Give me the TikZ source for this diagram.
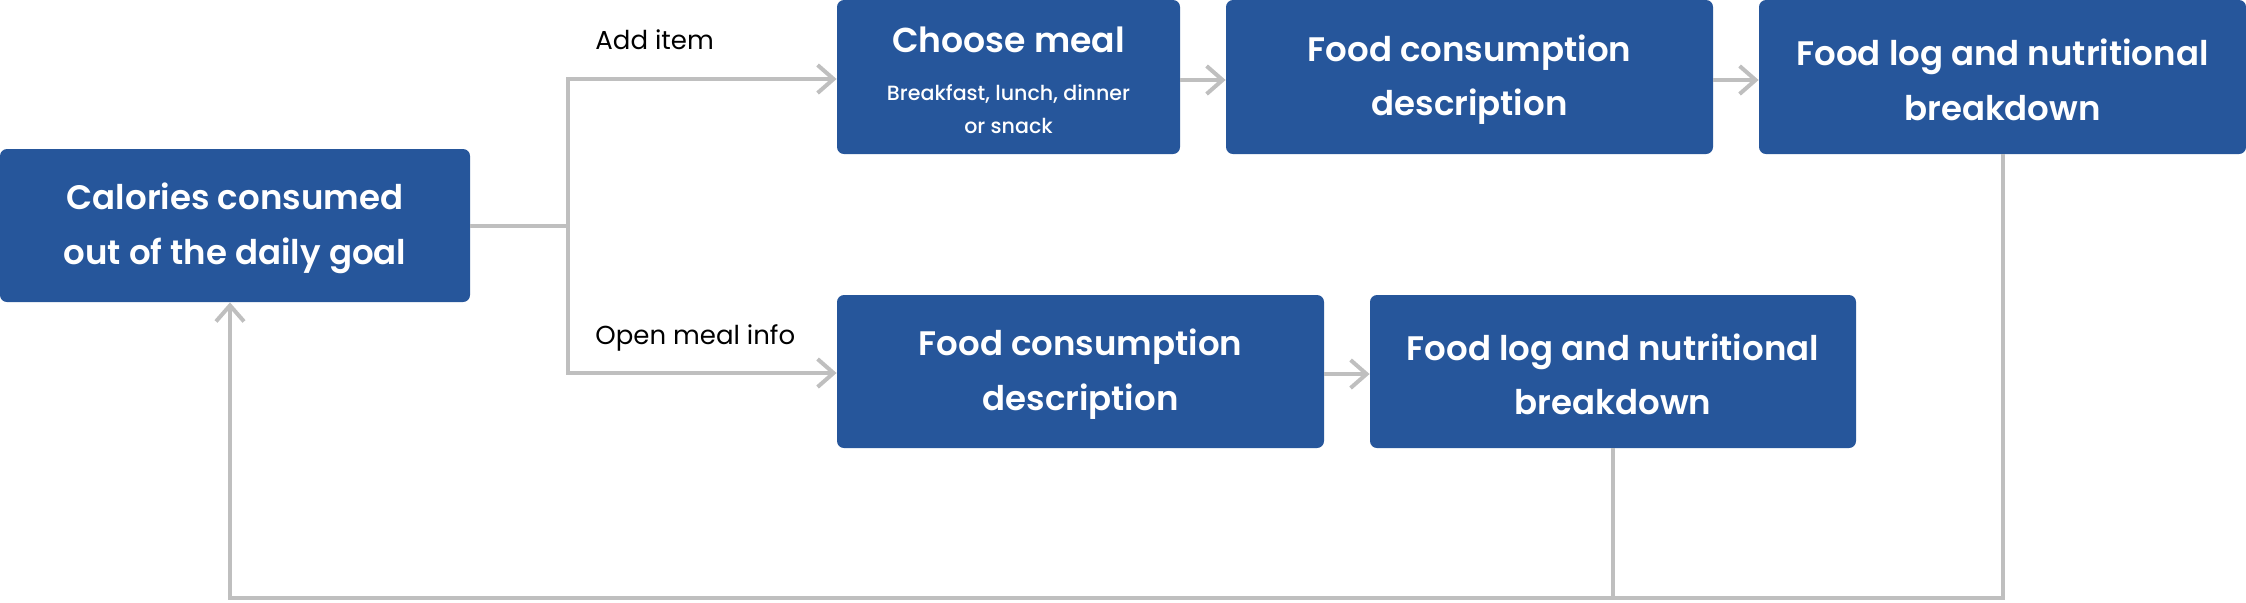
\documentclass[tikz,border=0pt]{standalone}
\usepackage{fontspec}
\setmainfont{Poppins}
\newfontfamily\boxfont{Poppins SemiBold}
\newfontfamily\subfont{Poppins Medium}
\usetikzlibrary{arrows.meta}
\definecolor{boxblue}{RGB}{38,86,155}
\definecolor{linegray}{RGB}{191,191,191}
\newcommand{\firstline}{\rule{0pt}{16pt}}
\begin{document}
\begin{tikzpicture}[x=0.5pt,y=-0.5pt,
  box/.style={fill=boxblue, rounded corners=3.5pt, text=white, align=center,
    inner sep=0pt, minimum height=76.5pt, font=\boxfont\fontsize{17}{27.3}\selectfont},
  boxtext/.style={text=white, inner sep=0pt, anchor=base},
  conn/.style={draw=linegray, line width=2pt},
  arr/.style={conn, -{Straight Barb[length=8pt,width=14pt]}},
  lbl/.style={font=\fontsize{13}{16}\selectfont, anchor=base west, inner sep=0pt}]
\useasboundingbox (0,0) rectangle (2246,602);
% boxes
\node[box, minimum width=235pt] (cal) at (235,225.5) {\firstline Calories consumed\\out of the daily goal};
\node[box, minimum width=171.5pt, minimum height=77pt] (choose) at (1008.5,77) {};
\node[boxtext, font=\boxfont\fontsize{17.3}{22}\selectfont] (choosetitle) at (1008.5,52.7) {Choose meal};
\node[boxtext, font=\subfont\fontsize{10.3}{16.5}\selectfont] (choosesub1) at (1008.5,100.7) {Breakfast, lunch, dinner};
\node[boxtext, font=\subfont\fontsize{10.3}{16.5}\selectfont] (choosesub2) at (1008.5,133) {or snack};
\node[box, minimum width=243.5pt, minimum height=77pt] (fc1) at (1469.5,77) {\firstline Food consumption\\description};
\node[box, minimum width=243.5pt, minimum height=77pt] (fl1) at (2002.5,77) {\firstline Food log and nutritional\\breakdown};
\node[box, minimum width=243.5pt] (fc2) at (1080.5,371.5) {\firstline Food consumption\\description};
\node[box, minimum width=243pt] (fl2) at (1613,371.5) {\firstline Food log and nutritional\\breakdown};
% labels
\node[lbl] (ladd) at (595,49) {Add item};
\node[lbl] (lopen) at (595,344) {Open meal info};
% connectors
\coordinate (split) at (568,225.5);
\coordinate (bot) at (0,598);
\draw[conn] (cal.east) -- (split);
\draw[arr] (split) |- ([yshift=-1pt]choose.west);
\draw[arr] (split) |- ([yshift=-0.75pt]fc2.west);
\draw[arr] ([yshift=-1.5pt]choose.east) -- ([yshift=-1.5pt]fc1.west);
\draw[arr] ([yshift=-1.5pt]fc1.east) -- ([yshift=-1.5pt]fl1.west);
\draw[arr] ([yshift=-1.25pt]fc2.east) -- ([yshift=-1.25pt]fl2.west);
\draw[conn] (fl2.south) -- (fl2.south |- bot);
\draw[arr] (fl1.south) -- (fl1.south |- bot) -| ([xshift=-2.5pt]cal.south);
\end{tikzpicture}
\end{document}
